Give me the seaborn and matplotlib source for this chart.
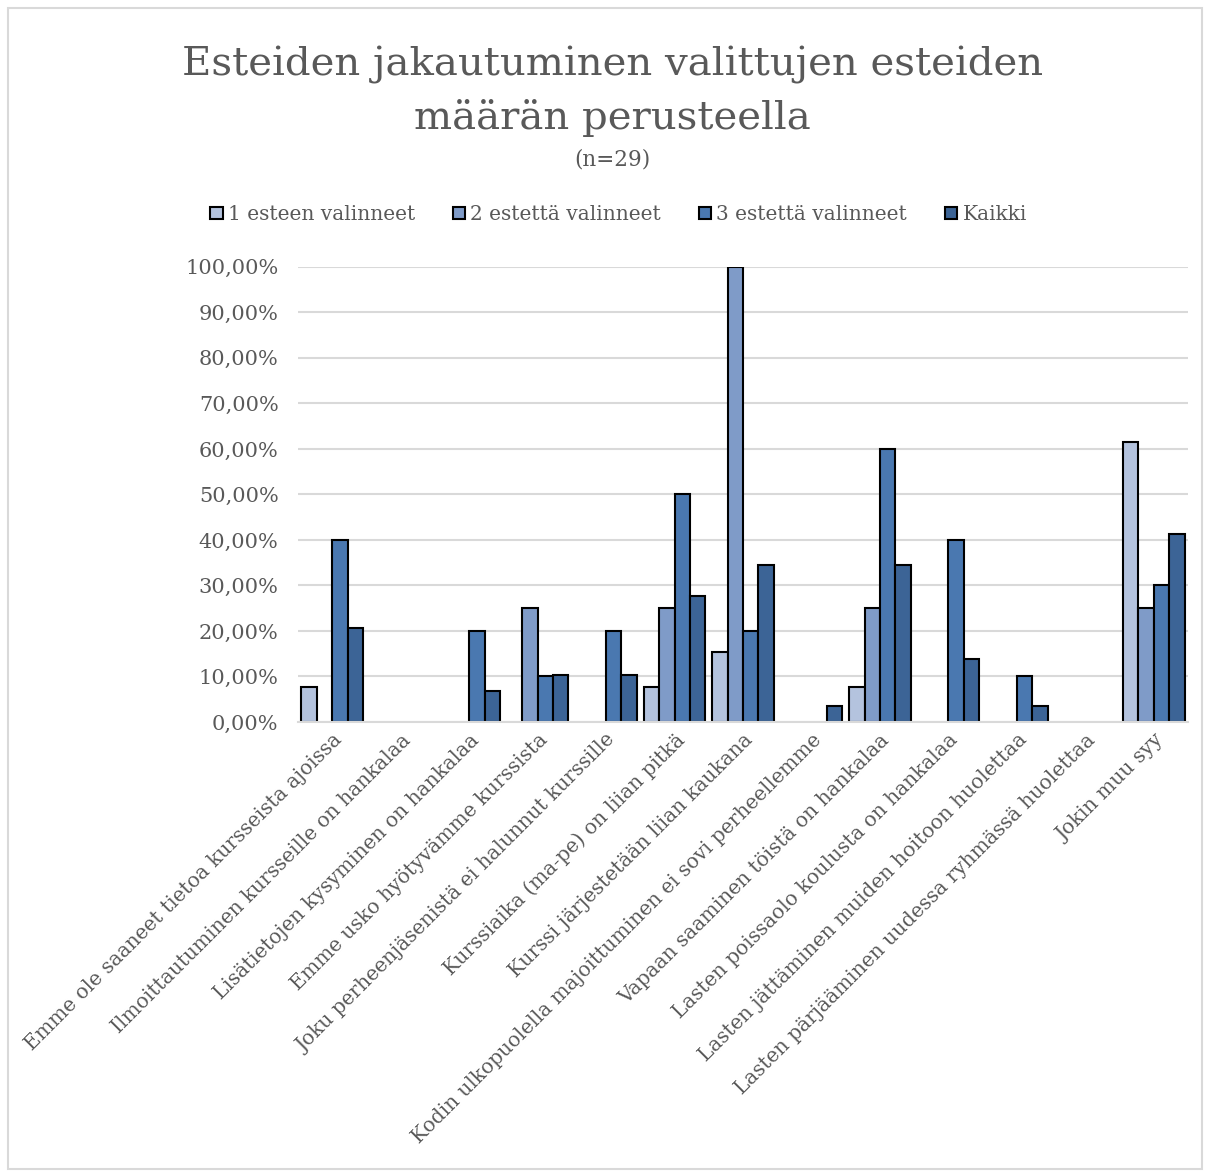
import matplotlib
matplotlib.use("Agg")
import matplotlib.pyplot as plt
import pandas as pd
import seaborn as sns
from matplotlib.patches import Patch, Rectangle
from matplotlib.ticker import FuncFormatter

categories = [
    "Emme ole saaneet tietoa kursseista ajoissa",
    "Ilmoittautuminen kursseille on hankalaa",
    "Lisätietojen kysyminen on hankalaa",
    "Emme usko hyötyvämme kurssista",
    "Joku perheenjäsenistä ei halunnut kurssille",
    "Kurssiaika (ma-pe) on liian pitkä",
    "Kurssi järjestetään liian kaukana",
    "Kodin ulkopuolella majoittuminen ei sovi perheellemme",
    "Vapaan saaminen töistä on hankalaa",
    "Lasten poissaolo koulusta on hankalaa",
    "Lasten jättäminen muiden hoitoon huolettaa",
    "Lasten pärjääminen uudessa ryhmässä huolettaa",
    "Jokin muu syy",
]
series_names = ["1 esteen valinneet", "2 estettä valinneet", "3 estettä valinneet", "Kaikki"]

one_obstacle = [7.69, 0, 0, 0, 0, 7.69, 15.38, 0, 7.69, 0, 0, 0, 61.54]
two_obstacles = [0, 0, 0, 25, 0, 25, 100, 0, 25, 0, 0, 0, 25]
three_obstacles = [40, 0, 20, 10, 20, 50, 20, 0, 60, 40, 10, 0, 30]
all_resp = [20.69, 0, 6.9, 10.34, 10.34, 27.59, 34.48, 3.45, 34.48, 13.79, 3.45, 0, 41.38]

colors = ["#B4C3DE", "#7F9BC8", "#4A78B0", "#3C6496"]

rows = []
for name, vals in zip(series_names, [one_obstacle, two_obstacles, three_obstacles, all_resp]):
    for cat, v in zip(categories, vals):
        rows.append({"category": cat, "series": name, "value": v / 100})
df = pd.DataFrame(rows)

sns.set_style("white")
plt.rcParams["font.family"] = ["DejaVu Serif"]
text_color = "#595959"

fig = plt.figure(figsize=(12.06, 11.73), dpi=100)
ax = fig.add_axes([0.2471, 0.3845, 0.738, 0.388])

sns.barplot(data=df, x="category", y="value", hue="series", palette=colors,
            saturation=1, width=0.9, gap=0, edgecolor="black", linewidth=1.5,
            ax=ax, legend=False, errorbar=None)

# empty bars are not drawn in the original
for bar in ax.patches:
    if bar.get_height() == 0:
        bar.set_visible(False)

ax.set_ylim(0, 1.0)
ax.set_yticks([i / 10 for i in range(11)])
ax.yaxis.set_major_formatter(FuncFormatter(lambda v, _: f"{v * 100:.2f}%".replace(".", ",")))
ax.grid(axis="y", color="#D9D9D9", linewidth=1.5)
ax.set_axisbelow(True)
for s in ["top", "right", "left"]:
    ax.spines[s].set_visible(False)
ax.spines["bottom"].set_color("#D9D9D9")
ax.spines["bottom"].set_linewidth(1.5)
ax.set_xlabel("")
ax.set_ylabel("")
ax.tick_params(axis="y", labelsize=15, colors=text_color, length=0, pad=14)
ax.tick_params(axis="x", labelsize=14.5, colors=text_color, length=0, pad=6)
for lbl in ax.get_xticklabels():
    lbl.set_rotation(45)
    lbl.set_ha("right")
    lbl.set_rotation_mode("anchor")

handles = [Patch(facecolor=c, edgecolor="black", linewidth=1.5) for c in colors]
fig.legend(handles, series_names, loc="center", bbox_to_anchor=(0.513, 0.817), ncol=4,
           frameon=False, fontsize=14.5, labelcolor=text_color, handlelength=0.6,
           handleheight=0.6, handletextpad=0.25, columnspacing=1.9)

fig.text(0.508, 0.945, "Esteiden jakautuminen valittujen esteiden", ha="center",
         va="center", fontsize=29, color=text_color)
fig.text(0.508, 0.899, "määrän perusteella", ha="center", va="center",
         fontsize=29, color=text_color)
fig.text(0.508, 0.864, "(n=29)", ha="center", va="center", fontsize=15.5, color=text_color)

fig.patches.append(Rectangle((0.007, 0.003), 0.99, 0.99, transform=fig.transFigure,
                             fill=False, edgecolor="#D9D9D9", linewidth=1.5))

fig.savefig("out.png", dpi=100)
